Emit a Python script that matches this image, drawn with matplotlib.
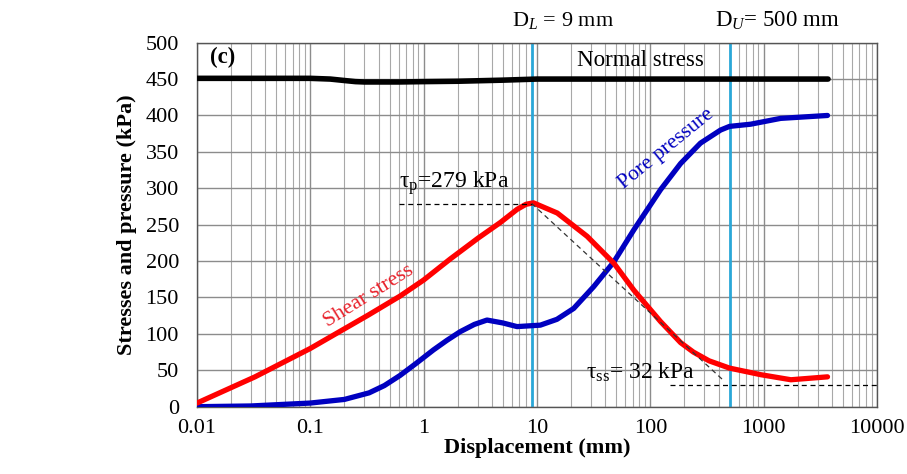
import numpy as np
import matplotlib
matplotlib.use('Agg')
import matplotlib.pyplot as plt
import matplotlib.transforms as mtransforms

plt.rcParams['font.family'] = 'Liberation Serif'
plt.rcParams['mathtext.fontset'] = 'custom'
plt.rcParams['mathtext.rm'] = 'Liberation Serif'
plt.rcParams['mathtext.it'] = 'Liberation Serif:italic'

# Values
normal_x = [0.01, 0.1, 0.15, 0.2, 0.25, 0.3, 0.6, 1, 2, 5, 10, 100, 1000, 3700]
normal_y = [451, 451, 450, 448, 446.5, 446, 446, 446.5, 447, 448.5, 450, 450, 450, 450]

shear_x = [0.01, 0.0325, 0.1, 0.326, 0.62, 1.0, 1.72, 3.05, 4.75, 6.67, 8.0, 9.3,
           15.1, 27.7, 47.7, 71.6, 123, 185, 240, 330, 500, 940, 1740, 3660]
shear_y = [5, 41, 80, 126, 152, 174, 203, 232, 253, 271, 278, 280,
           266, 234, 197, 160, 117, 88, 75, 63, 53, 44, 37, 41]

pore_x = [0.01, 0.03, 0.1, 0.2, 0.33, 0.45, 0.62, 0.85, 1.22, 1.6, 2.1, 2.8, 3.62, 5.0, 6.67,
          10.7, 15, 21.1, 31.7, 47.7, 71.6, 123, 185, 277, 417, 500, 767, 1413, 3660]
pore_y = [0, 1, 5, 10, 19, 29, 43, 59, 78, 91, 103, 113, 119, 115, 110,
          112, 120, 135, 165, 199, 243, 298, 334, 362, 380, 385, 388, 396, 400]

d_lower = 9
d_upper = 500
tau_peak = 279
tau_ss_line = 30

x_ticks = [0.01, 0.1, 1, 10, 100, 1000, 10000]
x_ticklabels = ['0.01', '0.1', '1', '10', '100', '1000', '10000']
y_ticks = np.arange(0, 501, 50)

fig = plt.figure(figsize=(9.07, 4.74), dpi=100)
ax = fig.add_axes([0.2172, 0.142, 0.7497, 0.768])

ax.set_xscale('log')
ax.set_xlim(0.01, 10000)
ax.set_ylim(0, 500)

# grid
ax.grid(True, which='major', color='#8c8c8c', lw=1.0)
ax.grid(True, which='minor', axis='x', color='#a8a8a8', lw=0.8)
ax.set_axisbelow(True)

# reference lines D_L and D_U
blue_line = '#2aa7d8'
ax.axvline(d_lower, color=blue_line, lw=2.0, zorder=2)
ax.axvline(d_upper, color=blue_line, lw=2.0, zorder=2)

# curves
ax.plot(normal_x, normal_y, color='black', lw=4.0, solid_capstyle='round',
        solid_joinstyle='round', zorder=3)
ax.plot(pore_x, pore_y, color='#0000c0', lw=3.8, solid_capstyle='round',
        solid_joinstyle='round', zorder=3)
ax.plot(shear_x, shear_y, color='#ff0000', lw=3.8, solid_capstyle='round',
        solid_joinstyle='round', zorder=4)

# dashed guides
ax.plot([0.6, d_lower], [tau_peak, tau_peak], color='black', lw=0.9, ls=(0, (4, 3)), zorder=5)
ax.plot([d_lower, 450], [tau_peak, 35], color='#333333', lw=0.9, ls=(0, (4, 3)), zorder=5)
ax.plot([150, 10000], [tau_ss_line, tau_ss_line], color='black', lw=0.9, ls=(0, (4, 3)), zorder=5)

# annotations
ax.text(0.013, 479, '(c)', fontsize=16.5, fontweight='bold', va='center', ha='left')
ax.text(81.5, 476, 'Normal stress', fontsize=16.5, va='center', ha='center')
ax.text(0.6, 307, 'τ$_\\mathrm{p}$=279 kPa', fontsize=17, va='center', ha='left')
ax.text(27, 47, 'τ$_\\mathrm{ss}$= 32 kPa', fontsize=17, va='center', ha='left')
ax.text(0.33, 152, 'Shear stress', fontsize=15.5, color='#e8202a', rotation=32,
        va='center', ha='center', rotation_mode='anchor')
ax.text(138, 354, 'Pore pressure', fontsize=15.5, color='#0000c0', rotation=39,
        va='center', ha='center', rotation_mode='anchor')

trans = mtransforms.blended_transform_factory(ax.transData, ax.transAxes)
ax.text(6.0, 1.06, 'D$_{\\mathit{L}}$ = 9 mm', transform=trans, fontsize=16, ha='left', va='center')
ax.text(375, 1.06, 'D$_{\\mathit{U}}$= 500 mm', transform=trans, fontsize=16.5, ha='left', va='center')

ax.set_xticks(x_ticks)
ax.set_xticklabels(x_ticklabels)
ax.set_yticks(y_ticks)
ax.tick_params(axis='both', which='both', length=0, labelsize=16)
ax.tick_params(axis='x', pad=9)
ax.tick_params(axis='y', pad=13)

for s in ax.spines.values():
    s.set_color('#555555')
    s.set_linewidth(1.0)

ax.set_xlabel('Displacement (mm)', fontsize=16, fontweight='bold', labelpad=0)
ax.set_ylabel('Stresses and pressure (kPa)', fontsize=16, fontweight='bold', labelpad=6)

fig.savefig('out.png', dpi=100)
